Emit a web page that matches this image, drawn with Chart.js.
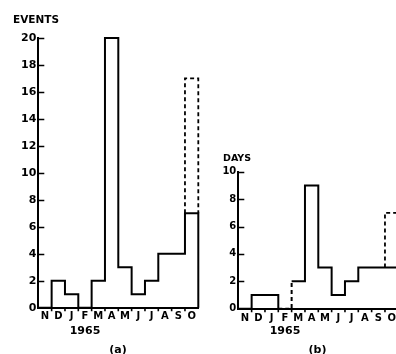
<!DOCTYPE html>
<html>
<head>
<meta charset="utf-8">
<script src="https://cdn.jsdelivr.net/npm/chart.js@4/dist/chart.umd.min.js"></script>
<style>
  html, body { margin:0; padding:0; background:#fff; overflow:hidden; width:396px; height:354px; }
  #wrap { position:relative; width:396px; height:354px; overflow:hidden; }
  canvas { position:absolute; top:0; }
  .lbl { position:absolute; font-family:"DejaVu Sans", sans-serif; font-weight:bold; line-height:1; color:#000; white-space:nowrap; }
  .ctr { width:60px; text-align:center; }
</style>
</head>
<body>
<div id="wrap">
  <canvas id="chartA" width="210" height="354" style="left:0"></canvas>
  <canvas id="chartB" width="200" height="354" style="left:200px"></canvas>
  <div class="lbl" style="left:13px; top:13.8px; font-size:10.5px">EVENTS</div>
  <div class="lbl" style="left:223px; top:152.9px; font-size:9.5px">DAYS</div>
  <div class="lbl ctr" style="left:55px; top:324.7px; font-size:11px">1965</div>
  <div class="lbl ctr" style="left:255px; top:325.4px; font-size:11px">1965</div>
  <div class="lbl ctr" style="left:88px; top:343.5px; font-size:11px">(a)</div>
  <div class="lbl ctr" style="left:287.5px; top:343.5px; font-size:11px">(b)</div>
</div>
<script>
// ---------------- Datos ----------------
const months = ['N','D','J','F','M','A','M','J','J','A','S','O'];
const events = [0, 2, 1, 0, 2, 20, 3, 1, 2, 4, 4, 7];
const eventsDashedTop = 17;   // October, dashed
const days = [0, 1, 1, 0, 2, 9, 3, 1, 2, 3, 3, 3];
const daysDashedTop = 7;      // October, dashed
const ticksA = [0, 2, 4, 6, 8, 10, 12, 14, 16, 18, 20];
const ticksB = [0, 2, 4, 6, 8, 10];

// stepped outline: one point per month boundary, then drop to zero
function stepPoints(vals) {
  const pts = vals.map((v, i) => ({ x: i, y: v }));
  pts.push({ x: vals.length, y: vals[vals.length - 1] });
  pts.push({ x: vals.length, y: 0 });
  return pts;
}
function dashedBox(vals, top) {
  const n = vals.length, last = vals[n - 1];
  return [{ x: n - 1, y: last }, { x: n - 1, y: top }, { x: n, y: top }, { x: n, y: last }];
}

// inward y ticks, small downward x ticks at month boundaries
const tickMarks = {
  id: 'tickMarks',
  afterDraw(chart) {
    const { ctx, chartArea, scales: { x, y } } = chart;
    ctx.save();
    ctx.strokeStyle = '#000';
    ctx.lineWidth = 1.6;
    ctx.beginPath();
    y.ticks.forEach(t => {
      if (t.value === 0) return;
      const py = Math.round(y.getPixelForValue(t.value)) + 0.5;
      ctx.moveTo(chartArea.left, py);
      ctx.lineTo(chartArea.left + 6, py);
    });
    for (let i = 1; i < months.length; i++) {
      const px = x.getPixelForValue(i);
      ctx.moveTo(px, chartArea.bottom);
      ctx.lineTo(px, chartArea.bottom + 3.5);
    }
    ctx.stroke();
    ctx.restore();
  }
};

function makeChart(el, vals, dashTop, yTicks, opt) {
  return new Chart(el, {
    type: 'line',
    data: {
      datasets: [
        {
          data: stepPoints(vals), stepped: 'before', borderColor: '#000', borderWidth: 2,
          pointRadius: 0, fill: false, clip: 4,
          segment: { borderDash: c => (opt.dashSeg.includes(c.p0DataIndex) ? [4, 3] : undefined) }
        },
        {
          data: dashedBox(vals, dashTop), borderColor: '#000', borderWidth: 1.8,
          borderDash: [4, 3], pointRadius: 0, fill: false, tension: 0, clip: 4
        }
      ]
    },
    options: {
      responsive: false, animation: false,
      layout: { padding: { top: opt.top, right: opt.right, left: 0, bottom: 0 } },
      plugins: { legend: { display: false }, tooltip: { enabled: false } },
      scales: {
        x: {
          type: 'linear', min: 0, max: months.length,
          afterFit: s => { s.height = opt.xh; },
          afterBuildTicks: s => { s.ticks = months.map((m, i) => ({ value: i + 0.5 })); },
          grid: { display: false, drawTicks: false },
          border: { display: true, color: '#000', width: 2 },
          ticks: {
            autoSkip: false, maxRotation: 0, padding: opt.xpad, color: '#000',
            font: { family: 'DejaVu Sans', weight: 'bold', size: 10 },
            callback: (v, i) => months[i]
          }
        },
        y: {
          type: 'linear', min: 0, max: yTicks[yTicks.length - 1],
          afterFit: s => { s.width = 38.3; },
          afterBuildTicks: s => { s.ticks = yTicks.map(v => ({ value: v })); },
          grid: { display: false, drawTicks: false },
          border: { display: true, color: '#000', width: 2 },
          ticks: {
            padding: 2, color: '#000',
            font: { family: 'DejaVu Sans', weight: 'bold', size: opt.yfont }
          }
        }
      }
    },
    plugins: [tickMarks]
  });
}

makeChart(document.getElementById('chartA'), events, eventsDashedTop, ticksA,
  { top: 38, right: 11.7, xh: 46.3, xpad: 3, yfont: 11, dashSeg: [] });
makeChart(document.getElementById('chartB'), days, daysDashedTop, ticksB,
  { top: 171.7, right: 1.7, xh: 45.3, xpad: 4, yfont: 10, dashSeg: [3] });
</script>
</body>
</html>
